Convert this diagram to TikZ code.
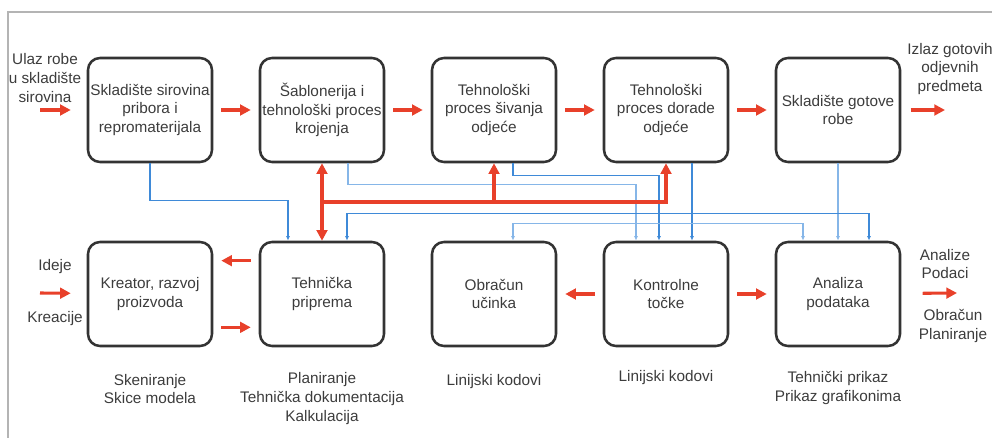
\documentclass[tikz,border=0pt]{standalone}
\usepackage{fontspec}
\setmainfont{Liberation Sans}
\usetikzlibrary{positioning,calc,arrows.meta}
\definecolor{boxgray}{HTML}{333333}
\definecolor{textgray}{HTML}{3C3C3C}
\definecolor{flowred}{HTML}{E8402A}
\definecolor{linkblue}{HTML}{3F8AD8}
\definecolor{linklight}{HTML}{86B6E8}
\definecolor{framegray}{HTML}{B4B4B4}

\begin{document}
\begin{tikzpicture}[x=0.75pt,y=-0.75pt,node distance=138pt and 129pt,font=\fontsize{11.5}{14}\selectfont]
  \tikzstyle{box}=[on grid,draw=boxgray,rounded corners=9pt,line width=1.9pt,minimum width=93pt,minimum height=78pt,align=center,text=textgray,inner sep=0pt]
  \tikzstyle{lbl}=[align=center,text=textgray,inner sep=0pt]
  \tikzstyle{flow}=[flowred,line width=2.3pt,>={Triangle[length=8pt,width=8pt]}]
  \tikzstyle{link}=[linkblue,line width=0.8pt,>={Latex[length=3.5pt,width=3pt]}]
  \useasboundingbox (0,0) rectangle (992,438);
  \draw[framegray,line width=1.5pt] (8,438) -- (8,12) -- (992,12);

  \node[box] (skl) at (150,110) {Skladište sirovina\\pribora i\\repromaterijala};
  \node[box,right=of skl] (krj) {Šablonerija i\\tehnološki proces\\krojenja};
  \node[box,right=of krj] (siv) {Tehnološki\\proces šivanja\\odjeće};
  \node[box,right=of siv] (drd) {Tehnološki\\proces dorade\\odjeće};
  \node[box,right=of drd] (got) {Skladište gotove\\robe};
  \node[box,below=of skl] (kr) {Kreator, razvoj\\proizvoda};
  \node[box,right=of kr] (tp) {Tehnička\\priprema};
  \node[box,right=of tp] (ob) {Obračun\\učinka};
  \node[box,right=of ob] (kt) {Kontrolne\\točke};
  \node[box,right=of kt] (an) {Analiza\\podataka};

  \node[lbl] (ulaz) at (45,78) {Ulaz robe\\u skladište\\sirovina};
  \node[lbl] (izlaz) at (950,69) {Izlaz gotovih\\odjevnih\\predmeta};
  \node[lbl] (ideje) at (55,267) {Ideje};
  \node[lbl] (kreacije) at (55,319) {Kreacije};
  \node[lbl] (analize) at (945,264) {Analize\\Podaci};
  \node[lbl] (planout) at (953,326) {Obračun\\Planiranje};
  \node[lbl,below=20pt of kr] (skice) {Skeniranje\\Skice modela};
  \node[lbl,below=19pt of tp] (plan) {Planiranje\\Tehnička dokumentacija\\Kalkulacija};
  \node[lbl,below=20pt of ob] (kod1) {Linijski kodovi};
  \node[lbl,below=17pt of kt] (kod2) {Linijski kodovi};
  \node[lbl,below=18pt of an] (prikaz) {Tehnički prikaz\\Prikaz grafikonima};

  \coordinate (in1) at (40,110);
  \coordinate (out1) at (945,110);
  \coordinate (in2) at (40,293);
  \coordinate (out2) at (957,293);
  \coordinate (rj) at ($(krj.south)!0.5!(tp.north)$);

  \draw[link,->] (skl) |- ($(tp.north)+(-34,-40)$) -- ($(tp.north)+(-34,0)$);
  \draw[link,linklight,->] ($(krj.south)+(26,0)$) |- ($(kt.north)+(-30,-56)$) -- ($(kt.north)+(-30,0)$);
  \draw[link,->] ($(siv.south)+(19,0)$) |- ($(kt.north)+(-7,-65)$) -- ($(kt.north)+(-7,0)$);
  \draw[link,->] ($(drd.south)+(26,0)$) -- ($(kt.north)+(26,0)$);
  \draw[link,linklight,->] (got) -- (an);
  \draw[link,<->] ($(tp.north)+(25,0)$) |- ($(an.north)+(31,-27)$) -- ($(an.north)+(31,0)$);
  \draw[link,linklight,<->] ($(ob.north)+(19,0)$) |- ($(an.north)+(-35,-17)$) -- ($(an.north)+(-35,0)$);

  \draw[flow,->,shorten >=12pt] (in1) -- (skl);
  \draw[flow,->,shorten <=6pt,shorten >=6pt] (skl) -- (krj);
  \draw[flow,->,shorten <=6pt,shorten >=6pt] (krj) -- (siv);
  \draw[flow,->,shorten <=6pt,shorten >=6pt] (siv) -- (drd);
  \draw[flow,->,shorten <=6pt,shorten >=6pt] (drd) -- (got);
  \draw[flow,->,shorten <=7pt] (got) -- (out1);
  \draw[flow,<->] (krj) -- (tp);
  \draw[flow,->] (rj) -| (drd);
  \draw[flow,->] (rj -| siv) -- (siv);
  \draw[flow,->,shorten >=12pt] (in2) -- (kr);
  \draw[flow,->,shorten <=6pt,shorten >=6pt] ([yshift=25pt]tp.west) -- ([yshift=25pt]kr.east);
  \draw[flow,->,shorten <=6pt,shorten >=6pt] ([yshift=-25pt]kr.east) -- ([yshift=-25pt]tp.west);
  \draw[flow,->,shorten <=6pt,shorten >=6pt] (kt) -- (ob);
  \draw[flow,->,shorten <=6pt,shorten >=6pt] (kt) -- (an);
  \draw[flow,->,shorten <=16pt] (an) -- (out2);
\end{tikzpicture}
\end{document}
